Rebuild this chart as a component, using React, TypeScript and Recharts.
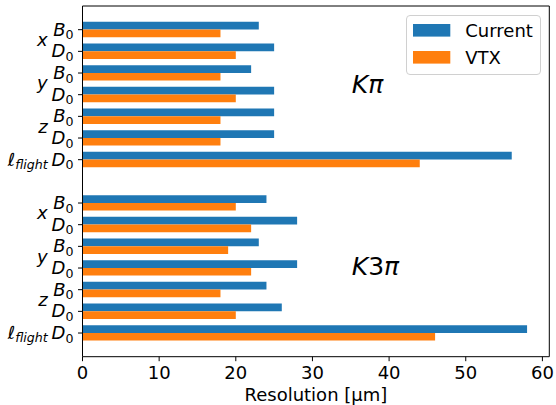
import React from 'react';
import { BarChart, Bar, XAxis, YAxis, Legend, ReferenceDot } from 'recharts';

// resolution in µm, rows per group: x B0, x D0, y B0, y D0, z B0, z D0, l_flight D0
const coordinates = ['x', 'y', 'z'];
const mesons = ['B', 'D'];
const kpiCurrent = [23, 25, 22, 25, 25, 25, 56];
const kpiVtx = [18, 20, 18, 20, 18, 18, 44];
const k3piCurrent = [24, 28, 23, 28, 24, 26, 58];
const k3piVtx = [20, 22, 19, 22, 18, 20, 46];
const xTicks = [0, 10, 20, 30, 40, 50, 60];

const FONT = 'DejaVu Sans';

function buildGroup(current: number[], vtx: number[]) {
  const out: any[] = [];
  coordinates.forEach((c, ci) =>
    mesons.forEach((m, mi) => {
      const i = ci * 2 + mi;
      out.push({ coord: c, meson: m, current: current[i], vtx: vtx[i] });
    })
  );
  out.push({ coord: 'flight', meson: 'D', current: current[6], vtx: vtx[6] });
  return out;
}

const rows = [
  ...buildGroup(kpiCurrent, kpiVtx),
  { coord: '', meson: '', current: null, vtx: null, gap: true },
  ...buildGroup(k3piCurrent, k3piVtx),
].map((r, i) => ({ ...r, name: String(i) }));

const HALF_ROW = 10.83;

function RowTick(props: any) {
  const { x, y, payload } = props;
  const row = rows[Number(payload.value)];
  if (!row || row.gap) return null;
  const tx = x - 9;
  return (
    <g>
      <line x1={x - 4.5} x2={x} y1={y} y2={y} stroke="#000" strokeWidth={1} />
      <text x={tx} y={y + 6} textAnchor="end" fontFamily={FONT} fontStyle="italic" fontSize={18} fill="#000">
        {row.meson}
        <tspan fontSize={12.6} fontStyle="normal" dy={3.5}>0</tspan>
      </text>
      {row.coord === 'flight' ? (
        <text x={tx - 25.8} y={y + 6} textAnchor="end" fontFamily={FONT} fontStyle="italic" fontSize={18} fill="#000">
          {'\u2113'}
          <tspan fontSize={12.6} dy={3}>flight</tspan>
        </text>
      ) : row.meson === 'B' ? (
        <text x={tx - 25.8} y={y + HALF_ROW + 5.5} textAnchor="end" fontFamily={FONT} fontStyle="italic" fontSize={18} fill="#000">
          {row.coord}
        </text>
      ) : null}
    </g>
  );
}

function renderLegend(props: any) {
  const items = (props.payload || []).filter((p: any) => p.type !== 'none');
  return (
    <svg width={135} height={60} style={{ display: 'block' }}>
      <rect x={0.5} y={0.5} width={134} height={59} rx={3.5} fill="#fff" fillOpacity={0.8} stroke="#d0d0d0" />
      {items.map((p: any, i: number) => (
        <g key={p.value}>
          <rect x={7} y={9 + i * 27} width={37.3} height={12.6} fill={p.color} />
          <text x={59.3} y={22 + i * 27} fontFamily={FONT} fontSize={18} fill="#000">{p.value}</text>
        </g>
      ))}
    </svg>
  );
}

function groupLabel(text: string, digit: string, dy: number) {
  return (props: any) => {
    const vb = props.viewBox || {};
    return (
      <text x={vb.x + 1} y={vb.y + dy} fontFamily={FONT} fontStyle="italic" fontSize={25} fill="#000">
        K
        {digit ? <tspan fontStyle="normal">{digit}</tspan> : null}
        {text}
      </text>
    );
  };
}

export default function App() {
  return (
    <div style={{ position: 'absolute', left: 0, top: 0, width: 556, height: 405, background: '#fff' }}>
      <BarChart
        width={556}
        height={405}
        data={rows}
        layout="vertical"
        barGap={0}
        margin={{ top: 5, right: 5.7, left: 0, bottom: 0 }}
      >
        <XAxis
          type="number"
          domain={[0, 60.9]}
          ticks={xTicks}
          height={48.3}
          stroke="#000"
          tickSize={4.5}
          tickMargin={5.5}
          tick={{ fill: '#000', fontSize: 18, fontFamily: FONT }}
          label={{ value: 'Resolution [\u03bcm]', position: 'insideBottom', offset: 4.5, fill: '#000', fontSize: 18, fontFamily: FONT }}
        />
        <XAxis xAxisId="top" orientation="top" type="number" domain={[0, 60.9]} height={1} tick={false} tickLine={false} stroke="#000" />
        <YAxis
          type="category"
          dataKey="name"
          width={82.5}
          interval={0}
          padding={{ top: 12.85, bottom: 12.85 }}
          stroke="#000"
          tickLine={false}
          tickSize={0}
          tickMargin={0}
          tick={<RowTick />}
        />
        <YAxis yAxisId="right" orientation="right" type="category" dataKey="name" width={1} tick={false} tickLine={false} stroke="#000" />
        <Legend
          layout="horizontal"
          verticalAlign="middle"
          align="center"
          content={renderLegend}
          wrapperStyle={{ left: 405.7, top: 15, width: 135, height: 60 }}
        />
        <Bar dataKey="current" name="Current" fill="#1f77b4" barSize={7.7} isAnimationActive={false} />
        <Bar dataKey="vtx" name="VTX" fill="#ff7f0e" barSize={7.7} isAnimationActive={false} />
        <ReferenceDot x={35} y="3" r={0} fill="none" stroke="none" label={{ content: groupLabel('\u03c0', '', -1.7) }} />
        <ReferenceDot x={35} y="11" r={0} fill="none" stroke="none" label={{ content: groupLabel('\u03c0', '3', 6.7) }} />
      </BarChart>
    </div>
  );
}
